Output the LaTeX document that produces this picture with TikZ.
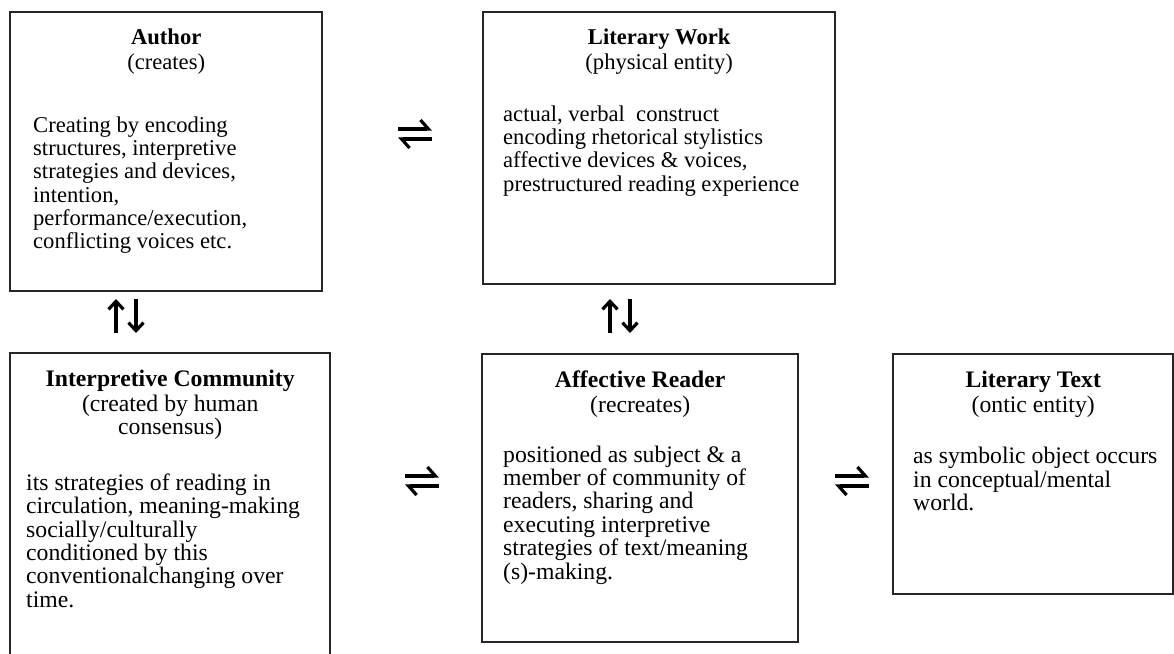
\documentclass[tikz,border=0pt]{standalone}
\usepackage{fontspec}
\setmainfont{Liberation Serif}
\usetikzlibrary{
  arrows.meta,
  positioning,
}
\newcommand{\entitytext}[6]{% width, height, title, subtitle, gap, body
  \parbox[c][#2][t]{#1}{\vspace*{8.3pt}%
    {\centering\textbf{#3}\\[0.9pt]#4\par}\vspace{#5}%
    \raggedright #6\par}}
\tikzset{
  entity/.style={
    rectangle, draw=black!85, line width=1.2pt, inner sep=0pt,
    anchor=north west, font=\fontsize{11.3}{11.6}\selectfont,
  },
  lower/.style={font=\fontsize{11.85}{11.7}\selectfont},
  harpoon/.style={
    -{Straight Barb[left,length=4pt,width=9pt]}, line width=1.6pt,
  },
  updown/.style={
    -{Straight Barb[length=4pt,width=7.5pt]}, line width=1.6pt,
  },
}

\begin{document}
\begin{tikzpicture}[x=0.5pt,y=-0.5pt]
\path[use as bounding box, clip] (0,0) rectangle (1174,654);

% top row
\node[entity] (author) at (9,11) {\entitytext{156pt}{139.5pt}{Author}{(creates)}{19.9pt}{%
  \leftskip=11.5pt
  Creating by encoding\\structures, interpretive\\strategies and devices,\\
  intention,\\performance/execution,\\conflicting voices etc.}};
\node[entity] (work) at (482,11) {\entitytext{176pt}{136pt}{Literary Work}{(physical entity)}{14.4pt}{%
  \leftskip=10pt
  actual, verbal\ \ construct\\encoding rhetorical stylistics\\
  affective devices \& voices,\\prestructured reading experience}};

% bottom row
\node[entity, lower] (community) at (9,352) {\entitytext{160pt}{155pt}{Interpretive Community}{(created by human\\consensus)}{16pt}{%
  \leftskip=8pt
  its strategies of reading in\\circulation, meaning-making\\socially/culturally\\
  conditioned by this\\conventionalchanging over\\time.}};
\node[entity, lower] (reader) at (481,353) {\entitytext{158pt}{144pt}{Affective Reader}{(recreates)}{13pt}{%
  \leftskip=10.5pt
  positioned as subject \& a\\member of community of\\readers, sharing and\\
  executing interpretive\\strategies of text/meaning\\(s)-making.}};
\node[entity, lower] (littext) at (892,353) {\entitytext{140pt}{120pt}{Literary Text}{(ontic entity)}{14pt}{%
  \leftskip=10pt
  as symbolic object occurs\\in conceptual/mental\\world.}};

% links
\coordinate (authorWork) at (415,134);
\coordinate (communityReader) at (422,481);
\coordinate (readerText) at (852,481);
\coordinate (authorCommunity) at (126,316);
\coordinate (workReader) at (620,316);

\foreach \c in {authorWork,communityReader,readerText}{
  \draw[harpoon] ([shift={(-17,-5)}]\c) -- ([shift={(17,-5)}]\c);
  \draw[harpoon] ([shift={(17,5)}]\c) -- ([shift={(-17,5)}]\c);
}
\foreach \c in {authorCommunity,workReader}{
  \draw[updown] ([shift={(-10,17)}]\c) -- ([shift={(-10,-17)}]\c);
  \draw[updown] ([shift={(10,-17)}]\c) -- ([shift={(10,17)}]\c);
}

\end{tikzpicture}
\end{document}
